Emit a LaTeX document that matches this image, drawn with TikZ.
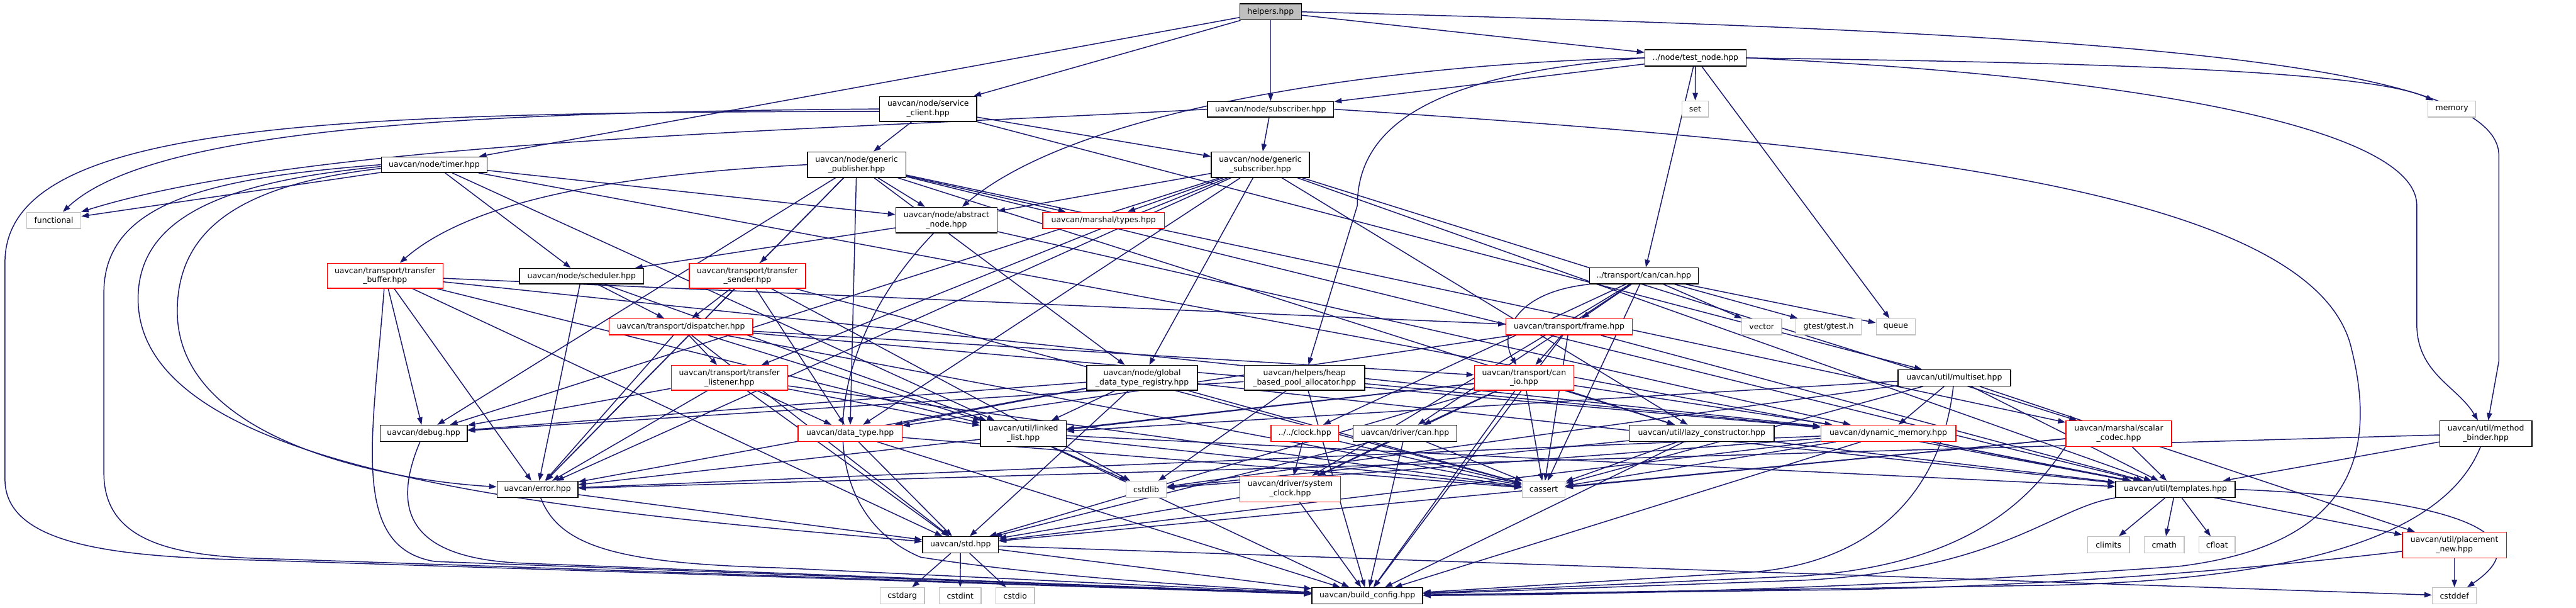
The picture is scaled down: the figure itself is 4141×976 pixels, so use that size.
\documentclass[tikz,border=0pt]{standalone}
\usepackage{fontspec}
\setmainfont{DejaVu Sans}
\usetikzlibrary{arrows.meta,backgrounds}
\definecolor{edgecol}{HTML}{191970}
\definecolor{sysgray}{HTML}{BFBFBF}
\definecolor{trunccol}{HTML}{FF0000}
\tikzset{
  box/.style={draw=black, fill=white, line width=1.4pt, inner sep=0pt, align=center,
    font=\fontsize{12.6}{15}\selectfont},
  sysbox/.style={box, draw=sysgray},
  trnbox/.style={box, draw=trunccol},
  curbox/.style={box, fill=sysgray},
  dep/.style={draw=edgecol, line width=1.5pt, -{Triangle[length=12pt,width=8.5pt]}}
}
\newcommand\gnode[7]{\node[#6, minimum width=#4pt, minimum height=#5pt] (#1) at (#2,#3) {#7};}
\begin{document}
\begin{tikzpicture}[x=1pt,y=-1pt]
\useasboundingbox (0,0) rectangle (4141,976);
\gnode{helpers}{2042.5}{19}{99}{26}{curbox}{helpers.hpp}
\gnode{timer}{698}{264.5}{170}{25}{box}{uavcan/node/timer.hpp}
\gnode{sclient}{1492}{175}{156}{40}{box}{uavcan/node/service\\\_client.hpp}
\gnode{subscriber}{2042.5}{175.5}{203}{25}{box}{uavcan/node/subscriber.hpp}
\gnode{testnode}{2725.5}{93}{163}{26}{box}{../node/test\_node.hpp}
\gnode{set}{2725}{175}{42}{26}{sysbox}{set}
\gnode{memory}{3941.5}{175}{77}{26}{sysbox}{memory}
\gnode{functional}{86.5}{354}{87}{26}{sysbox}{functional}
\gnode{gpub}{1377}{264.5}{158}{41}{box}{uavcan/node/generic\\\_publisher.hpp}
\gnode{gsub}{2026}{264.5}{158}{41}{box}{uavcan/node/generic\\\_subscriber.hpp}
\gnode{absnode}{1521.5}{353.5}{163}{41}{box}{uavcan/node/abstract\\\_node.hpp}
\gnode{mtypes}{1774}{354}{196}{26}{trnbox}{uavcan/marshal/types.hpp}
\gnode{tbuffer}{619}{443}{186}{40}{trnbox}{uavcan/transport/transfer\\\_buffer.hpp}
\gnode{sched}{935}{443.5}{200}{25}{box}{uavcan/node/scheduler.hpp}
\gnode{tsender}{1201.5}{443}{187}{40}{trnbox}{uavcan/transport/transfer\\\_sender.hpp}
\gnode{dispatcher}{1094.5}{525}{231}{26}{trnbox}{uavcan/transport/dispatcher.hpp}
\gnode{tlistener}{1172.5}{607}{187}{40}{trnbox}{uavcan/transport/transfer\\\_listener.hpp}
\gnode{gdtr}{1836}{607}{178}{40}{box}{uavcan/node/global\\\_data\_type\_registry.hpp}
\gnode{heap}{2097}{607}{194}{40}{box}{uavcan/helpers/heap\\\_based\_pool\_allocator.hpp}
\gnode{can}{2642.5}{443}{175}{26}{box}{../transport/can/can.hpp}
\gnode{frame}{2522.5}{525}{203}{26}{trnbox}{uavcan/transport/frame.hpp}
\gnode{vector}{2832}{525}{64}{26}{sysbox}{vector}
\gnode{gtest}{2939.5}{525}{105}{26}{sysbox}{gtest/gtest.h}
\gnode{queue}{3047.5}{525}{63}{26}{sysbox}{queue}
\gnode{canio}{2450}{607}{160}{40}{trnbox}{uavcan/transport/can\\\_io.hpp}
\gnode{multiset}{3141.5}{607}{181}{26}{box}{uavcan/util/multiset.hpp}
\gnode{debug}{681}{696}{140}{26}{box}{uavcan/debug.hpp}
\gnode{error}{864}{786}{130}{26}{box}{uavcan/error.hpp}
\gnode{datatype}{1366.5}{696}{167}{26}{trnbox}{uavcan/data\_type.hpp}
\gnode{linkedlist}{1645}{696.5}{138}{41}{box}{uavcan/util/linked\\\_list.hpp}
\gnode{cstdlib}{1842.5}{786}{65}{26}{sysbox}{cstdlib}
\gnode{std}{1544}{875}{122}{26}{box}{uavcan/std.hpp}
\gnode{cstdarg}{1450.5}{957}{71}{26}{sysbox}{cstdarg}
\gnode{cstdint}{1543.5}{957}{67}{26}{sysbox}{cstdint}
\gnode{cstdio}{1632}{957}{62}{26}{sysbox}{cstdio}
\gnode{clock}{2097.5}{696}{109}{26}{trnbox}{../../clock.hpp}
\gnode{drivercan}{2258.5}{696}{167}{26}{box}{uavcan/driver/can.hpp}
\gnode{lazy}{2735.5}{696}{233}{26}{box}{uavcan/util/lazy\_constructor.hpp}
\gnode{dynmem}{3035.5}{696}{217}{26}{trnbox}{uavcan/dynamic\_memory.hpp}
\gnode{sysclock}{2074}{785.5}{162}{41}{trnbox}{uavcan/driver/system\\\_clock.hpp}
\gnode{cassert}{2481.5}{786}{69}{26}{sysbox}{cassert}
\gnode{bconf}{2198}{957}{178}{26}{box}{uavcan/build\_config.hpp}
\gnode{scalar}{3406}{696.5}{170}{41}{trnbox}{uavcan/marshal/scalar\\\_codec.hpp}
\gnode{mbinder}{3996}{696.5}{148}{41}{box}{uavcan/util/method\\\_binder.hpp}
\gnode{templates}{3497}{786}{192}{26}{box}{uavcan/util/templates.hpp}
\gnode{climits}{3389.5}{875}{67}{26}{sysbox}{climits}
\gnode{cmath}{3479}{875}{64}{26}{sysbox}{cmath}
\gnode{cfloat}{3564}{875}{58}{26}{sysbox}{cfloat}
\gnode{placement}{3945.5}{875.5}{167}{41}{trnbox}{uavcan/util/placement\\\_new.hpp}
\gnode{cstddef}{3945.5}{957}{71}{26}{sysbox}{cstddef}
\begin{scope}[on background layer]
\foreach \a/\b in {helpers/timer, helpers/sclient, helpers/subscriber, helpers/testnode,
 timer/functional, timer/absnode, timer/sched, timer/linkedlist, timer/templates,
 sclient/gpub, sclient/gsub, sclient/multiset, subscriber/gsub,
 testnode/subscriber, testnode/set, testnode/queue, testnode/can,
 gpub/absnode, gpub/mtypes, gpub/tsender, gpub/datatype, gpub/gdtr, gpub/error, gpub/debug, gpub/lazy, gpub/scalar, gpub/templates,
 gsub/absnode, gsub/mtypes, gsub/tlistener, gsub/datatype, gsub/gdtr, gsub/debug, gsub/error, gsub/lazy, gsub/scalar, gsub/templates,
 absnode/sched, absnode/dynmem,
 sched/dispatcher, sched/error, sched/linkedlist,
 tbuffer/std, tbuffer/error, tbuffer/frame, tbuffer/linkedlist, tbuffer/dynmem, tbuffer/debug,
 tsender/dispatcher, tsender/datatype, tsender/error, tsender/cassert, tsender/cstdlib,
 dispatcher/tlistener, dispatcher/canio, dispatcher/linkedlist, dispatcher/dynmem, dispatcher/error, dispatcher/std, dispatcher/cassert,
 tlistener/error, tlistener/std, tlistener/linkedlist, tlistener/datatype, tlistener/debug, tlistener/cassert,
 gdtr/datatype, gdtr/linkedlist, gdtr/std, gdtr/error, gdtr/cassert, gdtr/templates, gdtr/debug,
 heap/debug, heap/cstdlib, heap/dynmem, heap/bconf,
 can/frame, can/vector, can/gtest, can/queue, can/cassert, can/clock, can/drivercan, can/sysclock,
 frame/canio, frame/datatype, frame/cassert, frame/bconf, frame/templates,
 canio/cassert, canio/std, canio/linkedlist, canio/dynmem, canio/bconf, canio/error, canio/lazy, canio/drivercan, canio/sysclock,
 multiset/cassert, multiset/cstdlib, multiset/linkedlist, multiset/dynmem, multiset/templates, multiset/placement,
 error/std, datatype/std, datatype/bconf, datatype/cassert,
 linkedlist/cstdlib, linkedlist/cassert, linkedlist/bconf, linkedlist/templates,
 std/cstdarg, std/cstdint, std/cstdio, std/bconf, std/cstddef,
 clock/sysclock, clock/cassert,
 drivercan/sysclock, drivercan/cassert, drivercan/std, drivercan/bconf,
 lazy/cstdlib, lazy/cassert, lazy/bconf, lazy/templates,
 dynmem/cstdlib, dynmem/cassert, dynmem/std, dynmem/bconf, dynmem/templates, dynmem/placement, dynmem/error,
 sysclock/std, sysclock/bconf,
 scalar/std, scalar/templates, scalar/cassert,
 templates/climits, templates/cmath, templates/cfloat,
 mbinder/error, mbinder/templates, placement/cstddef}
 {\draw[dep] (\a) -- (\b);}
\draw[dep] (sclient.west) .. controls (800,180) and (250,200) .. (functional);
\draw[dep] ([yshift=-4pt]sclient.west) .. controls (500,180) and (10,200) .. (8,420) -- (8,770) .. controls (8,880) and (200,895) .. (420,900) -- (bconf);
\draw[dep] (subscriber.west) .. controls (1300,210) and (500,225) .. (functional);
\draw[dep] (subscriber.east) .. controls (3000,230) and (3720,300) .. (3780,560) .. controls (3830,760) and (3750,880) .. (3500,910) .. controls (3000,945) and (2600,955) .. (bconf);
\draw[dep] (timer.west) .. controls (350,285) and (167,320) .. (167,470) -- (167,760) .. controls (167,880) and (300,895) .. (450,898) -- (bconf);
\draw[dep] ([yshift=-3pt]timer.west) .. controls (380,290) and (222,340) .. (222,480) .. controls (222,760) and (900,820) .. (std);
\draw[dep] ([yshift=-6pt]timer.west) .. controls (400,295) and (285,360) .. (285,500) .. controls (285,700) and (600,770) .. (error);
\draw[dep] (testnode.west) .. controls (2300,100) and (1750,160) .. (absnode);
\draw[dep] (testnode.east) .. controls (3300,100) and (3800,110) .. (memory);
\draw[dep] (testnode.west) .. controls (2350,115) and (2182,180) .. (2182,330) -- (heap);
\draw[dep] (testnode.east) .. controls (3400,120) and (3885,200) .. (3885,330) -- (3885,520) .. controls (3885,600) and (3950,620) .. (mbinder);
\draw[dep] (helpers.east) .. controls (3300,50) and (4017,90) .. (4017,250) -- (4017,580) -- (mbinder);
\draw[dep] (gpub.west) .. controls (1000,280) and (760,320) .. (tbuffer);
\draw[dep] (absnode) .. controls (1320,560) and (1300,820) .. (1480,895) .. controls (1700,930) and (2000,945) .. (bconf);
\draw[dep] (error) .. controls (900,880) and (1000,905) .. (1250,912) -- (bconf);
\draw[dep] (debug) .. controls (620,840) and (680,900) .. (850,905) -- (bconf);
\draw[dep] (tbuffer) .. controls (600,700) and (560,880) .. (700,902) -- (bconf);
\draw[dep] (templates.east) .. controls (3950,800) and (4090,860) .. (cstddef);
\draw[dep] (mbinder) .. controls (3930,860) and (3700,930) .. (3300,940) -- (bconf);
\draw[dep] (templates.south west) .. controls (3300,815) and (3220,915) .. (2900,932) -- (bconf);
\draw[dep] (scalar.south west) .. controls (3270,790) and (3180,905) .. (2900,925) -- (bconf);
\draw[dep] (multiset) .. controls (3120,800) and (3000,910) .. (2800,920) -- (bconf);
\draw[dep] (placement) .. controls (3700,905) and (3300,945) .. (2900,948) -- (bconf);
\draw[dep] (can.south west) .. controls (2430,470) and (2410,540) .. (canio);
\end{scope}
\end{tikzpicture}
\end{document}
